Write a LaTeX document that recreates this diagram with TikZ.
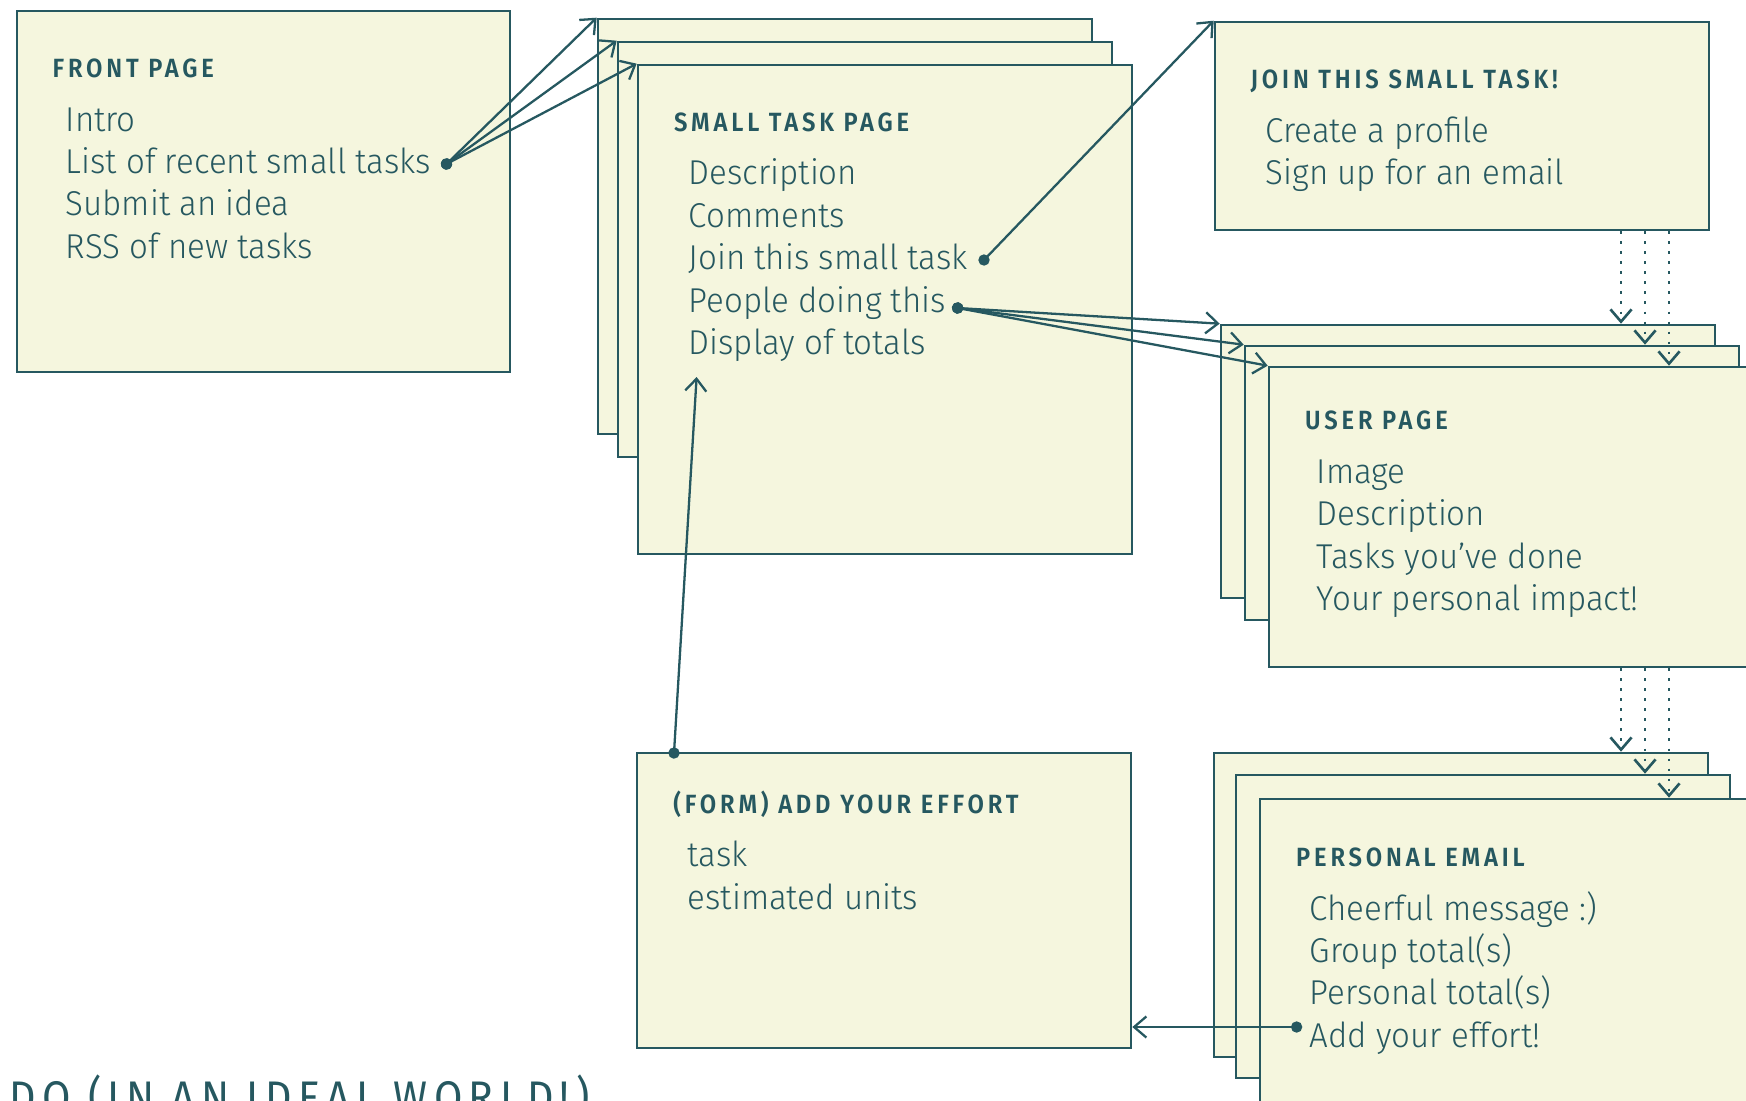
\documentclass[tikz,border=0pt]{standalone}
\usepackage{fontspec}
\setmainfont{Fira Sans Light}[BoldFont={Fira Sans SemiBold}]
\newfontfamily\capfont{Fira Sans}
\usetikzlibrary{arrows.meta,fit}
\definecolor{inkteal}{HTML}{265860}
\definecolor{paper}{HTML}{F5F6DE}

\begin{document}
\begin{tikzpicture}[
    x=0.01cm, y=-0.01cm,
    page/.style={draw=inkteal,fill=paper,line width=0.75pt,inner sep=0pt},
    ptitle/.style={font=\fontsize{7.5}{9}\selectfont\bfseries\addfontfeature{LetterSpace=14.5,FakeStretch=0.9},text=inkteal,anchor=base west,inner sep=0pt},
    item/.style={font=\fontsize{9.8}{12}\selectfont\addfontfeature{FakeStretch=0.96},text=inkteal,anchor=base west,inner sep=0pt},
    link/.style={draw=inkteal,line width=0.65pt,shorten <=-1.6pt,{Circle[length=3.2pt]}-{Straight Barb[length=3.5pt,width=6pt]}},
    flow/.style={draw=inkteal,line width=0.75pt,dash pattern=on 0.75pt off 2.1pt,-{Straight Barb[length=3.5pt,width=6pt]}},
  ]
  \def\lh{42.4}
  \useasboundingbox (0,0) rectangle (1746,1100);

  % pages
  \node[page,fit={(17,11) (510,372)}] (front) {};
  \foreach \n/\xa/\ya/\xb/\yb in {st1/598/19/1092/434,st2/618/42/1112/457,st3/638/65/1132/554}
    \node[page,fit={(\xa,\ya) (\xb,\yb)}] (\n) {};
  \node[page,fit={(1215,22) (1709,230)}] (join) {};
  \foreach \n/\xa/\ya/\xb/\yb in {up1/1221/325/1715/598,up2/1245/346/1739/620,up3/1269/367/1763/667}
    \node[page,fit={(\xa,\ya) (\xb,\yb)}] (\n) {};
  \node[page,fit={(637,753) (1131,1048)}] (form) {};
  \foreach \n/\xa/\ya/\xb/\yb in {em1/1214/753/1708/1057,em2/1236/775/1730/1078,em3/1260/799/1754/1110}
    \node[page,fit={(\xa,\ya) (\xb,\yb)}] (\n) {};

  % titles
  \node[ptitle] (frontT) at (52,77.3) {FRONT PAGE};
  \node[ptitle] (stT) at (673.5,131.3) {SMALL TASK PAGE};
  \node[ptitle] (joinT) at (1250,88.4) {JOIN THIS SMALL TASK!};
  \node[ptitle] (upT) at (1304.5,429.5) {USER PAGE};
  \node[ptitle] (formT) at (672.7,813.3) {(FORM) ADD YOUR EFFORT};
  \node[ptitle] (emT) at (1295.5,866.7) {PERSONAL EMAIL};

  % lines of each page
  \foreach \t [count=\k] in {Intro,List of recent small tasks,Submit an idea,RSS of new tasks}
    \node[item] (fp\k) at (65,{131+(\k-1)*\lh}) {\t};
  \foreach \t [count=\k] in {Description,Comments,Join this small task,People doing this,Display of totals}
    \node[item] (sp\k) at (688,{184.8+(\k-1)*\lh}) {\t};
  \foreach \t [count=\k] in {Create a profile,Sign up for an email}
    \node[item] (jp\k) at (1265,{142+(\k-1)*\lh}) {\t};
  \foreach \t [count=\k] in {Image,Description,Tasks you’ve done,Your personal impact!}
    \node[item] (ul\k) at (1316,{483.5+(\k-1)*\lh}) {\t};
  \foreach \t [count=\k] in {task,estimated units}
    \node[item] (fl\k) at (687,{866.7+(\k-1)*\lh}) {\t};
  \foreach \t [count=\k] in {Cheerful message :),Group total(s),Personal total(s),Add your effort!}
    \node[item] (el\k) at (1309,{920+(\k-1)*\lh}) {\t};

  \node[item,font=\capfont\fontsize{13}{15}\selectfont\addfontfeature{LetterSpace=13.8,FakeStretch=0.9}] (caption) at (9,1113.5) {DO (IN AN IDEAL WORLD!)};

  % connectors
  \coordinate (listdot) at (446.5,164);
  \coordinate (joindot) at (984,260);
  \coordinate (peopledot) at (957.6,308);
  \coordinate (formdot) at (674,753);
  \coordinate (disptip) at (696.6,377);
  \coordinate (emdot) at (1296.6,1027);
  \foreach \n in {st1,st2,st3}
    \draw[link] (listdot) -- (\n.north west);
  \draw[link] (joindot) -- (join.north west);
  \foreach \n in {up1,up2,up3}
    \draw[link] (peopledot) -- (\n.north west);
  \draw[link] (formdot) -- (disptip);
  \draw[link] (emdot) -- (emdot -| form.east);

  \foreach \k/\dx in {1/1621,2/1645,3/1669}{
    \coordinate (dx\k) at (\dx,0);
    \draw[flow] (join.south -| dx\k) -- (up\k.north -| dx\k);
    \draw[flow] (up3.south -| dx\k) -- (em\k.north -| dx\k);
  }
\end{tikzpicture}
\end{document}
